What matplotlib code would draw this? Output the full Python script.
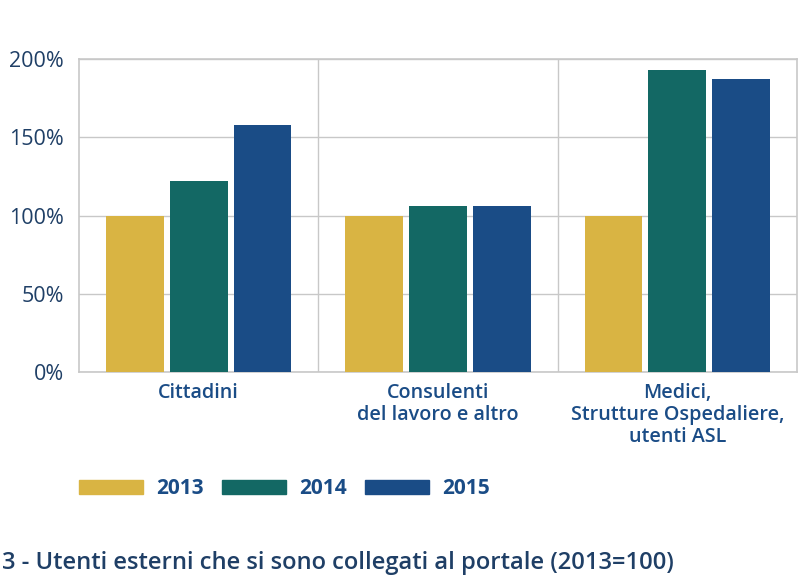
import matplotlib
matplotlib.use("Agg")
import matplotlib.pyplot as plt
import numpy as np
from matplotlib.patches import Rectangle

categories = ["Cittadini", "Consulenti\ndel lavoro e altro", "Medici,\nStrutture Ospedaliere,\nutenti ASL"]
years = ["2013", "2014", "2015"]
v2013 = [100, 100, 100]
v2014 = [122, 106, 193]
v2015 = [158, 106, 187]
yticks = [0, 50, 100, 150, 200]
colors = ["#D9B443", "#136864", "#1A4C86"]
title = "3 - Utenti esterni che si sono collegati al portale (2013=100)"

plt.rcParams['font.family'] = ['Open Sans', 'DejaVu Sans']
fig = plt.figure(figsize=(8, 5.8), dpi=100)
ax = fig.add_axes([79/800, 1-372/580, 718/800, 313/580])

x = np.arange(len(categories)) + 0.5
w = 0.2417
off = 0.267
for i, (vals, c) in enumerate(zip([v2013, v2014, v2015], colors)):
    ax.bar(x + (i-1)*off, vals, width=w, color=c, zorder=3)

ax.set_xlim(0, 3)
ax.set_ylim(0, 200)
ax.set_yticks(yticks)
ax.set_yticklabels([f"{t}%" for t in yticks], fontsize=15.5, color="#1F3F66")
ax.tick_params(axis='y', length=0, pad=11)
ax.tick_params(axis='x', length=0, pad=8)
ax.set_xticks(x)
ax.set_xticklabels(categories, fontsize=14.2, fontweight='semibold', color="#1A4C86", linespacing=1.12)
ax.grid(axis='y', color="#C8C8C8", lw=1, zorder=0)
for xv in [1, 2]:
    ax.axvline(xv, color="#C8C8C8", lw=1, zorder=0)
for s in ax.spines.values():
    s.set_color("#C8C8C8")
    s.set_linewidth(1.2)

# legend
for i, (yr, c) in enumerate(zip(years, colors)):
    x0 = 79 + i*143
    fig.patches.append(Rectangle((x0/800, 1-494/580), 64/800, 14/580, color=c, transform=fig.transFigure, figure=fig))
    fig.text((x0+77)/800, 1-488/580, yr, fontsize=15, fontweight='bold', color="#1A4C86", va='center', ha='left')

fig.text(2/800, 1-563/580, title, fontsize=17.1, fontweight='semibold', color="#1F3F66", va='center', ha='left')

fig.savefig("out.png", dpi=100)
